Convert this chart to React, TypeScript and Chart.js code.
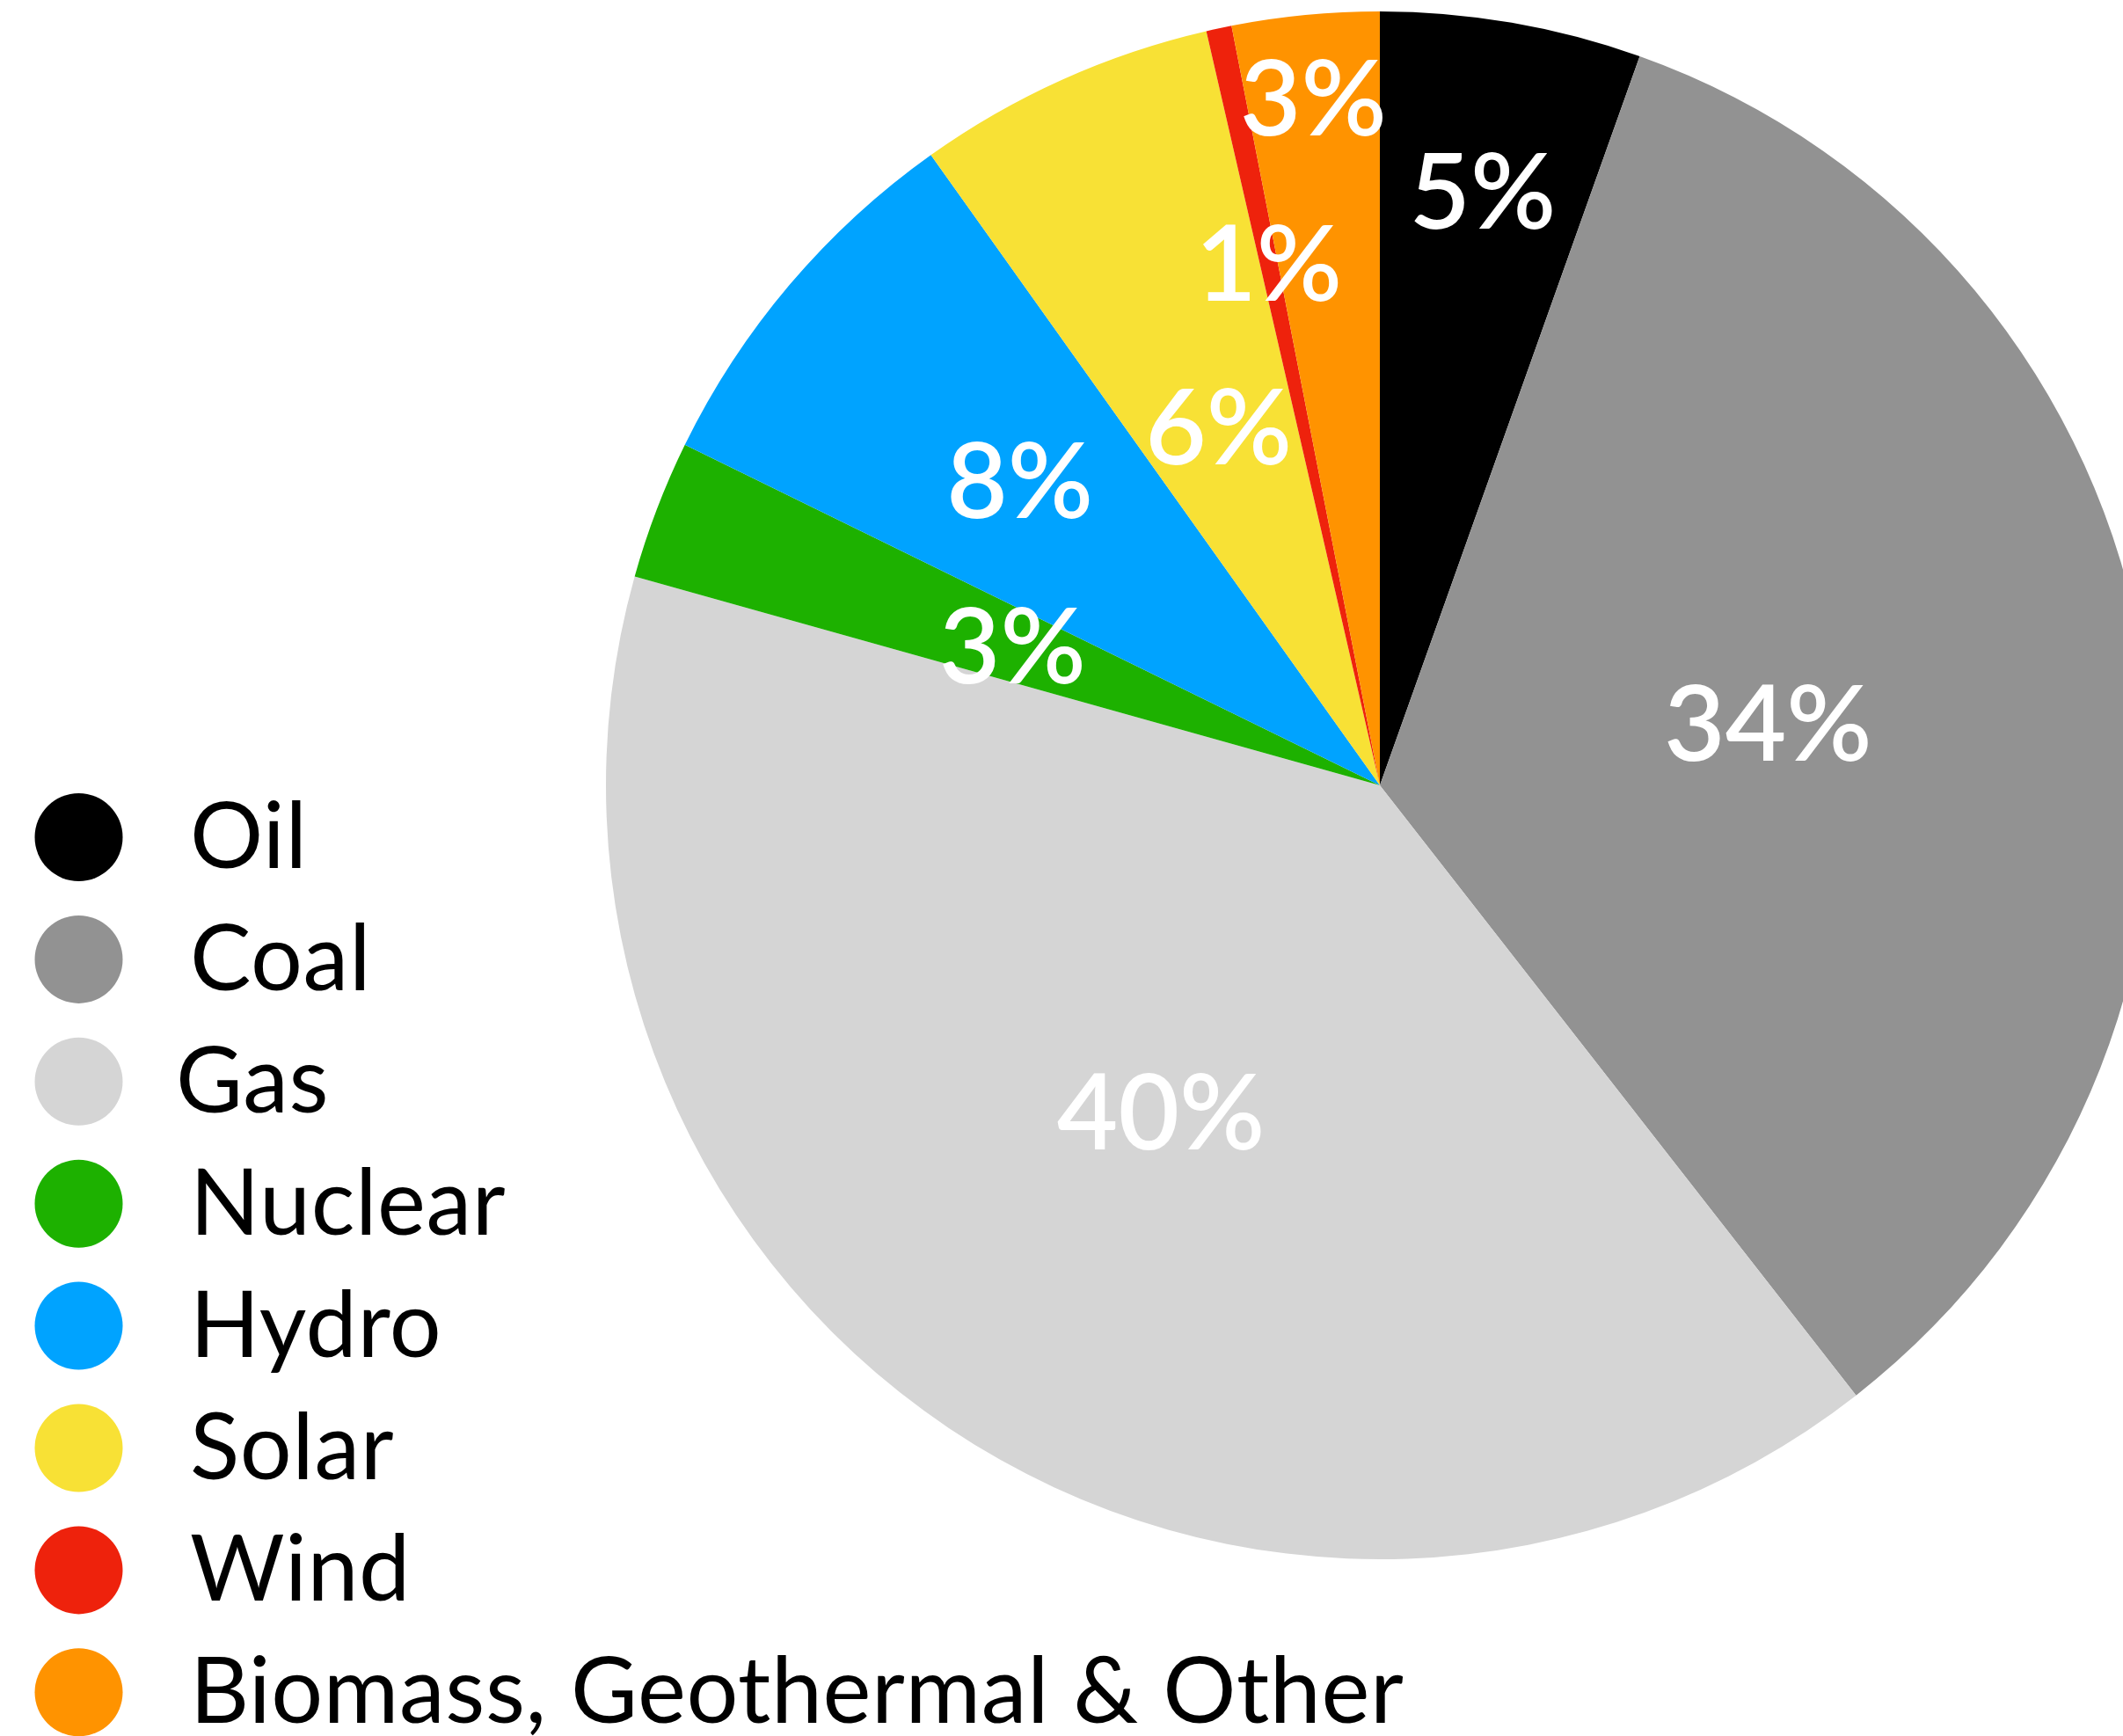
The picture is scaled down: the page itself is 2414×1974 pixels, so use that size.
import React, { useEffect, useRef } from "react";
import { Chart, registerables } from "chart.js";

Chart.register(...registerables);

const categories = [
  "Oil",
  "Coal",
  "Gas",
  "Nuclear",
  "Hydro",
  "Solar",
  "Wind",
  "Biomass, Geothermal & Other",
];
const shares = [5.45, 34.0, 39.9, 2.9, 7.9, 6.25, 0.53, 3.07];
const colors = [
  "#000000",
  "#929292",
  "#d5d5d5",
  "#1db100",
  "#00a3ff",
  "#f8e135",
  "#ee220c",
  "#ff9300",
];
// label distance from centre, as a fraction of the radius
const labelRadius = [0.78, 0.508, 0.508, 0.508, 0.61, 0.508, 0.69, 0.893];

const W = 2414;
const H = 1974;
const CANVAS_W = 2460;

const labelsPlugin = {
  id: "sliceLabels",
  afterDatasetsDraw(chart: any) {
    const ctx = chart.ctx;
    const meta = chart.getDatasetMeta(0);
    const data = chart.data.datasets[0].data as number[];
    ctx.save();
    ctx.fillStyle = "#ffffff";
    ctx.font = "600 120px Lato";
    ctx.textAlign = "center";
    ctx.textBaseline = "alphabetic";
    meta.data.forEach((arc: any, i: number) => {
      const p = arc.getProps(["x", "y", "startAngle", "endAngle", "outerRadius"], true);
      const mid = (p.startAngle + p.endAngle) / 2;
      const r = p.outerRadius * labelRadius[i];
      const cx = p.x + Math.cos(mid) * r;
      const cy = p.y + Math.sin(mid) * r;
      ctx.fillText(Math.round(data[i]) + "%", cx, cy + 43);
    });
    ctx.restore();
  },
};

const legendPlugin = {
  id: "sideLegend",
  afterDraw(chart: any) {
    const ctx = chart.ctx;
    const labels = chart.data.labels as string[];
    const bg = chart.data.datasets[0].backgroundColor as string[];
    ctx.save();
    ctx.font = "400 104px Lato";
    (ctx as any).letterSpacing = "0.6px";
    ctx.textAlign = "left";
    ctx.textBaseline = "alphabetic";
    labels.forEach((lab, i) => {
      const y = 952 + i * 138.9;
      ctx.beginPath();
      ctx.arc(89.5, y, 50, 0, Math.PI * 2);
      ctx.fillStyle = bg[i];
      ctx.fill();
      ctx.fillStyle = "#000000";
      ctx.fillText(lab, lab === "Gas" ? 200 : 216, y + 35);
    });
    ctx.restore();
  },
};

export default function App() {
  const ref = useRef<HTMLCanvasElement>(null);

  useEffect(() => {
    const canvas = ref.current!;
    const chart = new Chart(canvas, {
      type: "pie",
      data: {
        labels: categories,
        datasets: [
          {
            data: shares,
            backgroundColor: colors,
            borderWidth: 0,
          },
        ],
      },
      options: {
        responsive: false,
        animation: false,
        devicePixelRatio: 1,
        layout: {
          padding: { left: 689, top: 13, right: CANVAS_W - 2449, bottom: H - 1773 },
        },
        plugins: {
          legend: { display: false },
          tooltip: { enabled: false },
        },
      },
      plugins: [labelsPlugin, legendPlugin],
    });
    return () => chart.destroy();
  }, []);

  return (
    <div
      style={{
        position: "absolute",
        left: 0,
        top: 0,
        width: W,
        height: H,
        overflow: "hidden",
        background: "#ffffff",
      }}
    >
      <canvas
        ref={ref}
        width={CANVAS_W}
        height={H}
        style={{ width: CANVAS_W, height: H, display: "block" }}
      />
    </div>
  );
}
